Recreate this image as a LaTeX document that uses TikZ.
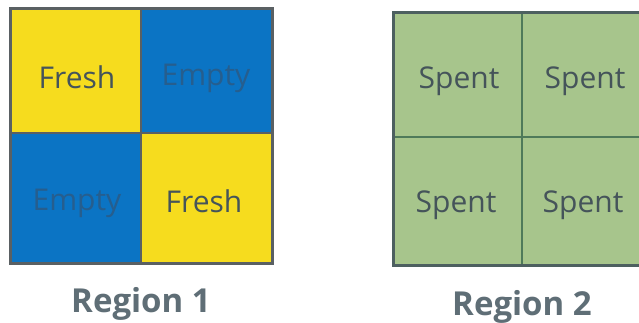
\documentclass[tikz,border=0pt]{standalone}
\usepackage{fontspec}
\setmainfont{Open Sans}
\definecolor{freshY}{HTML}{F6DC1E}
\definecolor{emptyB}{HTML}{0B74C4}
\definecolor{spentG}{HTML}{A7C58C}
\definecolor{frameG}{HTML}{5A6063}
\definecolor{frameS}{HTML}{4D6060}
\definecolor{lineS}{HTML}{4F7A5A}
\definecolor{txtD}{HTML}{45545A}
\definecolor{txtB}{HTML}{265E8E}
\definecolor{lblG}{HTML}{5F6E76}
\tikzset{
  celltext/.style={font=\fontsize{30}{32}\selectfont, text=txtD, anchor=center},
  emptytext/.style={celltext, text=txtB},
  regionlbl/.style={font=\fontsize{33}{35}\selectfont\bfseries, text=lblG, anchor=base},
}
\begin{document}
\begin{tikzpicture}[x=1pt,y=-1pt]
\useasboundingbox (0,0) rectangle (639,322);
\fill[white] (0,0) rectangle (639,322);
% Region 1: checkerboard of fresh and empty cells
\fill[freshY] (10,8) rectangle (141,133);
\fill[emptyB] (141,8) rectangle (272,133);
\fill[emptyB] (10,133) rectangle (141,263);
\fill[freshY] (141,133) rectangle (272,263);
\draw[frameG, line width=1.2] (141,8) -- (141,263) (10,133) -- (272,133);
\draw[frameG, line width=3] (10,8) rectangle (272,263);
\node[celltext] (f1) at (77,77) {Fresh};
\node[emptytext] (e1) at (206,78) {Empty};
\node[emptytext] (e2) at (77,203) {Empty};
\node[celltext] (f2) at (204,201) {Fresh};
% Region 2: all cells spent, frame runs past the right edge
\fill[spentG] (393,12) rectangle (660,265);
\draw[lineS, line width=1.2] (522,12) -- (522,265) (393,137) -- (660,137);
\draw[frameS, line width=3] (660,12) -- (393,12) -- (393,265) -- (660,265);
\node[celltext] (s1) at (459,81) {Spent};
\node[celltext] (s2) at (585,81) {Spent};
\node[celltext] (s3) at (456,205) {Spent};
\node[celltext] (s4) at (583,205) {Spent};
% Region captions
\node[regionlbl] (r1) at (141,312) {Region 1};
\node[regionlbl] (r2) at (522,315) {Region 2};
\end{tikzpicture}
\end{document}
